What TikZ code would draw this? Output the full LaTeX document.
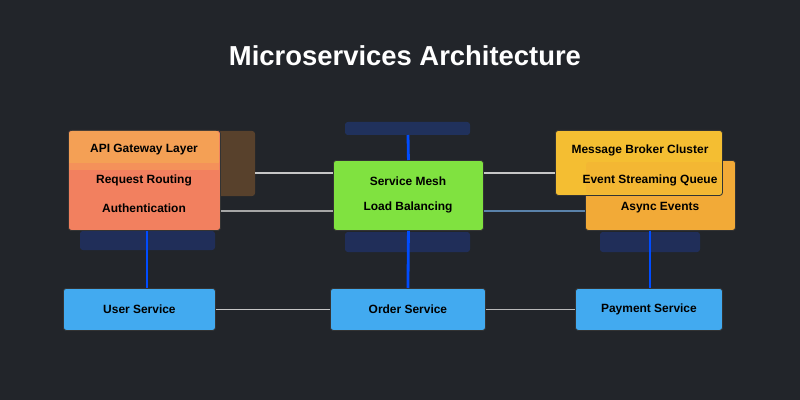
\documentclass[tikz,border=0pt]{standalone}
\usepackage{fontspec}
\setmainfont{Liberation Sans}
\begin{document}
\begin{tikzpicture}[x=0.025cm,y=-0.025cm,
  box/.style={draw=black!80, line width=0.6pt, rounded corners=2pt, inner sep=0pt, align=center, font=\fontsize{8.5}{15}\selectfont\bfseries, text=black},
  lbl/.style={font=\fontsize{8.5}{10}\selectfont\bfseries, text=black},
  ghost/.style={rounded corners=2pt, opacity=0.35},
  glow/.style={rounded corners=2pt, opacity=0.3},
  link/.style={draw=gray!70, line width=1.2pt},
  vlink/.style={draw=blue!70!cyan, line width=2pt},
]
\useasboundingbox (0,0) rectangle (800,400);
\fill[fill={rgb,255:red,34;green,37;blue,42}] (0,0) rectangle (800,400);

\node[text=white, font=\fontsize{19.5}{24}\selectfont\bfseries] (title) at (405,56) {Microservices Architecture};

% ghost glows
\fill[ghost, fill={rgb,255:red,190;green,120;blue,50}] (200,131) rectangle (255,196);
\fill[glow, fill={rgb,255:red,30;green,70;blue,200}] (80,231) rectangle (215,250);
\fill[glow, fill={rgb,255:red,30;green,80;blue,210}] (345,122) rectangle (470,135);
\fill[glow, fill={rgb,255:red,30;green,70;blue,200}] (345,232) rectangle (470,252);
\fill[glow, fill={rgb,255:red,30;green,70;blue,200}] (600,232) rectangle (700,252);

\coordinate (l1) at (220,211);
\coordinate (l2) at (255,173);

% boxes
\node[box, fill={rgb,255:red,242;green,128;blue,95}, minimum width=3.8cm, minimum height=2.5cm, anchor=north west] (gw) at (68,130) {};
\fill[fill={rgb,255:red,244;green,160;blue,85}, rounded corners=2pt] (69,131) rectangle (219,165);
\fill[fill={rgb,255:red,244;green,145;blue,90}] (69,163) rectangle (219,170);
\node[lbl] (gwa) at (144,150) {API Gateway Layer};
\node[lbl] (gwb) at (144,180) {Request Routing};
\node[lbl] (gwc) at (144,208) {Authentication};

\node[box, fill={rgb,255:red,128;green,226;blue,64}, minimum width=3.75cm, minimum height=1.75cm, anchor=north west] (mesh) at (333,160) {};
\node[lbl] (mesha) at (408,181) {Service Mesh};
\node[lbl] (meshb) at (408,207) {Load Balancing};

\node[box, fill={rgb,255:red,242;green,170;blue,55}, minimum width=3.75cm, minimum height=1.75cm, anchor=north west] (mqb) at (585,160) {};
\node[box, fill={rgb,255:red,244;green,190;blue,50}, minimum width=4.175cm, minimum height=1.625cm, anchor=north west] (mq) at (555,130) {};
\fill[ghost, fill={rgb,255:red,242;green,170;blue,55}] (586,162) rectangle (721,194);
\node[lbl] (mqa) at (640,150) {Message Broker Cluster};
\node[lbl] (mqc) at (650,180) {Event Streaming Queue};
\node[lbl] (mqd) at (660,208) {Async Events};

\node[box, fill={rgb,255:red,66;green,170;blue,240}, minimum width=3.8cm, minimum height=1.05cm, anchor=north west] (us) at (63,288) {User Service};
\node[box, fill={rgb,255:red,66;green,170;blue,240}, minimum width=3.875cm, minimum height=1.05cm, anchor=north west] (os) at (330,288) {Order Service};
\node[box, fill={rgb,255:red,66;green,170;blue,240}, minimum width=3.675cm, minimum height=1.05cm, anchor=north west] (ps) at (575,288) {Payment Service};

% horizontal links
\draw[link] (gw.east |- l1) -- (mesh.west |- l1);
\draw[link, draw=gray!45] (l2) -- (mesh.west |- l2);
\draw[link, draw=gray!45] (mesh.east |- l2) -- (mq.west |- l2);
\draw[link, draw={rgb,255:red,90;green,130;blue,170}] (mesh.east |- l1) -- (mqb.west |- l1);
\draw[link, draw=gray!45] (us.east) -- (os.west);
\draw[link, draw=gray!55] (os.east) -- (ps.west);

% vertical links
\coordinate (vl) at (147,0);
\coordinate (vr) at (650,0);
\draw[vlink] (gw.south -| vl) -- (us.north -| vl);
\draw[vlink] (mesh.south) -- (os.north);
\draw[vlink] (mqb.south -| vr) -- (ps.north -| vr);
\coordinate (mtop) at (408,135);
\draw[vlink] (mtop) -- (mesh.north);
\end{tikzpicture}
\end{document}
